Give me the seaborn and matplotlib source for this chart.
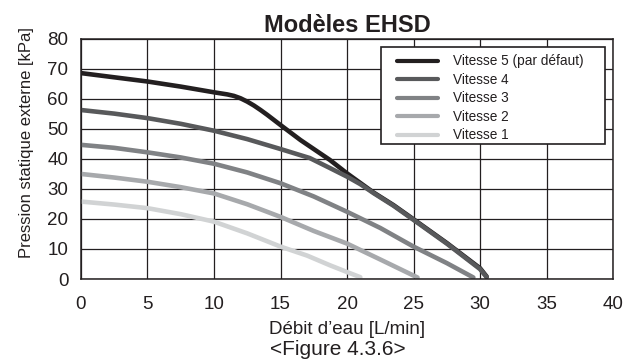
import numpy as np
import pandas as pd
import matplotlib
matplotlib.use("Agg")
import matplotlib.pyplot as plt
from matplotlib.patches import Rectangle
import seaborn as sns

# Courbes débit / pression statique externe par vitesse de pompe
debit_v5 = [0, 2.5, 5, 7.5, 10, 11, 11.5, 12, 12.5, 13, 13.5, 14, 15, 16.5, 18.7, 20, 21, 22, 23.5, 25, 27.5, 30, 30.5]
press_v5 = [68.6, 67.2, 65.8, 64.1, 62.2, 61.5, 61.0, 60.2, 59.1, 57.8, 56.3, 54.7, 51.3, 46.3, 39.7, 35.2, 32.0, 28.8, 24.6, 19.9, 12.0, 3.6, 0.8]

debit_v4 = [0, 2.5, 5, 7.5, 10, 12.5, 15, 17.2, 18.7, 20, 21, 22, 23.5, 25, 27.5, 30, 30.5]
press_v4 = [56.3, 55.1, 53.6, 51.7, 49.4, 46.6, 43.3, 40.3, 37.0, 34.1, 31.6, 28.6, 24.4, 19.7, 11.8, 3.3, 0.6]

debit_v3 = [0, 2.5, 5, 7.5, 10, 12.5, 15, 17.5, 20, 22.5, 25, 27.5, 29.5]
press_v3 = [44.7, 43.7, 42.2, 40.5, 38.4, 35.5, 31.9, 27.5, 22.4, 17.0, 10.8, 5.3, 0.5]

debit_v2 = [0, 2.5, 5, 7.5, 10, 12.5, 15, 17.5, 20, 22.5, 25.3]
press_v2 = [35.0, 33.8, 32.4, 30.6, 28.5, 24.9, 20.7, 16.0, 11.8, 6.5, 0.5]

debit_v1 = [0, 2.5, 5, 7.5, 10, 12.5, 15, 17, 18.7, 20.3, 21]
press_v1 = [25.8, 24.8, 23.6, 21.6, 19.1, 15.2, 10.8, 7.8, 4.6, 1.8, 0.6]

vitesses = ["Vitesse 5 (par défaut)", "Vitesse 4", "Vitesse 3", "Vitesse 2", "Vitesse 1"]
couleurs = ["#231f20", "#58595b", "#808285", "#a7a9ac", "#d1d3d4"]

x_ticks = [0, 5, 10, 15, 20, 25, 30, 35, 40]
y_ticks = [0, 10, 20, 30, 40, 50, 60, 70, 80]

series = [(debit_v5, press_v5), (debit_v4, press_v4), (debit_v3, press_v3),
          (debit_v2, press_v2), (debit_v1, press_v1)]
frames = []
for nom, (d, p) in zip(vitesses, series):
    frames.append(pd.DataFrame({"debit": d, "pression": p, "vitesse": nom}))
df = pd.concat(frames, ignore_index=True)

sns.set_theme(style="white")
plt.rcParams["font.family"] = ["Liberation Sans", "DejaVu Sans"]

fig = plt.figure(figsize=(6.23, 3.6), dpi=100)
ax = fig.add_axes([0.130, 0.225, 0.854, 0.667])

sns.lineplot(data=df, x="debit", y="pression", hue="vitesse", hue_order=vitesses,
             palette=couleurs, linewidth=3.3, sort=False, estimator=None, ax=ax,
             solid_capstyle="round", solid_joinstyle="round")

ax.set_xlim(0, 40)
ax.set_ylim(0, 80)
ax.set_xticks(x_ticks)
ax.set_yticks(y_ticks)
ax.tick_params(axis="both", labelsize=13.5, length=0, colors="#231f20")
ax.tick_params(axis="x", pad=12.5)
ax.tick_params(axis="y", pad=9)
ax.grid(True, color="#231f20", linewidth=0.9)
ax.set_axisbelow(True)
for s in ax.spines.values():
    s.set_color("#231f20")
    s.set_linewidth(1.1)

ax.set_xlabel("Débit d’eau [L/min]", fontsize=13.5, color="#231f20", labelpad=5.5)
ax.set_ylabel("Pression statique externe [kPa]", fontsize=12, color="#231f20")
ax.yaxis.set_label_coords(-0.088, 0.567)
ax.set_title("Modèles EHSD", fontsize=17, fontweight="bold", color="#231f20", pad=5)

# cadre de la légende
ax.add_patch(Rectangle((0.564, 0.5625), 0.421, 0.4045, transform=ax.transAxes,
                       facecolor="white", edgecolor="#231f20", linewidth=1.2, zorder=4))
leg = ax.legend(loc="upper left", bbox_to_anchor=(0.594, 0.935), frameon=False,
                fontsize=9.8, handlelength=3.0, handletextpad=1.1, labelspacing=0.33,
                borderpad=0, borderaxespad=0)
leg.set_zorder(5)
for h in leg.get_lines():
    h.set_linewidth(3.0)
    h.set_solid_capstyle("round")
for t in leg.get_texts():
    t.set_color("#231f20")

fig.text(0.543, 0.014, "<Figure 4.3.6>", ha="center", va="baseline", fontsize=15, color="#231f20")

fig.savefig("out.png", dpi=100)
